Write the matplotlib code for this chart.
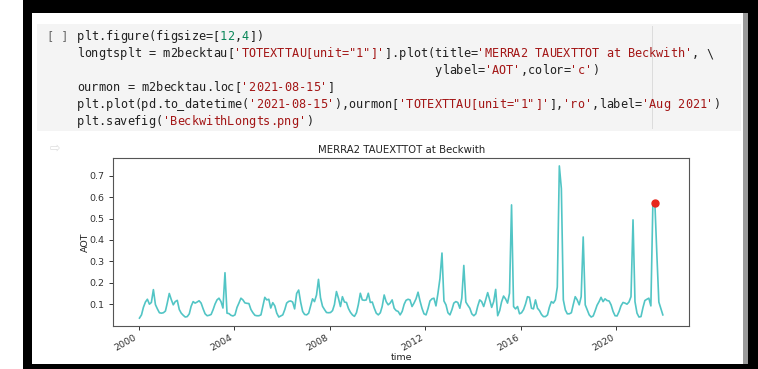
import matplotlib
matplotlib.use('Agg')
import matplotlib.pyplot as plt
import matplotlib.dates as mdates
from matplotlib.patches import Rectangle
import pandas as pd

W, H = 758, 369

# monthly MERRA2 TOTEXTTAU at Beckwith, Jan 2000 .. Dec 2021
aot = [
    0.035, 0.050, 0.085, 0.110, 0.123, 0.100, 0.108, 0.168, 0.098, 0.078, 0.060, 0.058,  # 2000
    0.060, 0.068, 0.105, 0.150, 0.122, 0.097, 0.112, 0.118, 0.075, 0.058, 0.048, 0.040,  # 2001
    0.042, 0.055, 0.090, 0.112, 0.105, 0.110, 0.116, 0.105, 0.078, 0.055, 0.046, 0.048,  # 2002
    0.052, 0.075, 0.100, 0.120, 0.128, 0.112, 0.082, 0.247, 0.058, 0.056, 0.048, 0.045,  # 2003
    0.050, 0.085, 0.105, 0.128, 0.120, 0.106, 0.104, 0.103, 0.075, 0.060, 0.048, 0.046,  # 2004
    0.046, 0.050, 0.090, 0.132, 0.120, 0.123, 0.082, 0.107, 0.092, 0.058, 0.040, 0.045,  # 2005
    0.050, 0.075, 0.105, 0.113, 0.115, 0.110, 0.078, 0.150, 0.166, 0.110, 0.066, 0.052,  # 2006
    0.050, 0.058, 0.089, 0.125, 0.112, 0.143, 0.216, 0.130, 0.090, 0.075, 0.061, 0.060,  # 2007
    0.061, 0.070, 0.098, 0.159, 0.128, 0.089, 0.135, 0.110, 0.108, 0.080, 0.062, 0.050,  # 2008
    0.043, 0.060, 0.097, 0.151, 0.120, 0.118, 0.120, 0.151, 0.108, 0.110, 0.081, 0.058,  # 2009
    0.050, 0.060, 0.089, 0.143, 0.112, 0.097, 0.105, 0.120, 0.081, 0.070, 0.066, 0.050,  # 2010
    0.066, 0.100, 0.118, 0.123, 0.120, 0.089, 0.105, 0.125, 0.156, 0.115, 0.080, 0.055,  # 2011
    0.050, 0.080, 0.115, 0.125, 0.128, 0.092, 0.150, 0.220, 0.339, 0.115, 0.097, 0.060,  # 2012
    0.050, 0.075, 0.105, 0.112, 0.108, 0.081, 0.128, 0.281, 0.110, 0.095, 0.081, 0.055,  # 2013
    0.046, 0.055, 0.090, 0.120, 0.112, 0.089, 0.120, 0.154, 0.120, 0.085, 0.112, 0.169,  # 2014
    0.046, 0.070, 0.110, 0.138, 0.125, 0.105, 0.151, 0.564, 0.089, 0.078, 0.089, 0.055,  # 2015
    0.060, 0.075, 0.100, 0.135, 0.132, 0.081, 0.078, 0.120, 0.081, 0.070, 0.052, 0.042,  # 2016
    0.042, 0.050, 0.085, 0.112, 0.105, 0.120, 0.180, 0.746, 0.640, 0.120, 0.073, 0.055,  # 2017
    0.055, 0.060, 0.097, 0.135, 0.120, 0.097, 0.135, 0.414, 0.097, 0.074, 0.050, 0.040,  # 2018
    0.045, 0.070, 0.095, 0.112, 0.132, 0.112, 0.125, 0.117, 0.115, 0.097, 0.066, 0.046,  # 2019
    0.045, 0.066, 0.092, 0.108, 0.105, 0.100, 0.110, 0.135, 0.494, 0.112, 0.058, 0.040,  # 2020
    0.042, 0.085, 0.117, 0.123, 0.128, 0.092, 0.560, 0.575, 0.330, 0.110, 0.080, 0.050,  # 2021
]
first_month = '2000-01'
highlight_date = '2021-08-15'

dates = pd.date_range(first_month, periods=len(aot), freq='MS') + pd.Timedelta(days=14)
m2becktau = pd.Series(aot, index=dates)

# notebook cell text: (segment, colour) pairs per line
DEF, STR, NUM = '#202020', '#a31515', '#098658'
code_lines = [
    [("plt.figure(figsize=[", DEF), ("12", NUM), (",", DEF), ("4", NUM), ("])", DEF)],
    [("longtsplt = m2becktau[", DEF), ("'TOTEXTTAU[unit=\"1\"]'", STR), ("].plot(title=", DEF),
     ("'MERRA2 TAUEXTTOT at Beckwith'", STR), (", \\", DEF)],
    [(" " * 50 + "ylabel=", DEF), ("'AOT'", STR), (",color=", DEF), ("'c'", STR), (")", DEF)],
    [("ourmon = m2becktau.loc[", DEF), ("'2021-08-15'", STR), ("]", DEF)],
    [("plt.plot(pd.to_datetime(", DEF), ("'2021-08-15'", STR), ("),ourmon[", DEF),
     ("'TOTEXTTAU[unit=\"1\"]'", STR), ("],", DEF), ("'ro'", STR), (",label=", DEF),
     ("'Aug 2021'", STR), (")", DEF)],
    [("plt.savefig(", DEF), ("'BeckwithLongts.png'", STR), (")", DEF)],
]


def box(fig, x0, y0, x1, y1, color, z=0):
    # pixel box (top-left origin) -> figure fraction rectangle
    fig.add_artist(Rectangle((x0 / W, 1 - y1 / H), (x1 - x0) / W, (y1 - y0) / H,
                             transform=fig.transFigure, facecolor=color,
                             edgecolor='none', zorder=z))


fig = plt.figure(figsize=(W / 100, H / 100), dpi=100, facecolor='white')
renderer = fig.canvas.get_renderer()

# screenshot frame and code cell
box(fig, 23, 0, W, 13, 'black')
box(fig, 23, 0, 32, H, 'black')
box(fig, 743, 13, 748, 364, '#9a9a9a')
box(fig, 748, 0, W, H, 'black')
box(fig, 23, 364, W, H, 'black')
box(fig, 37, 24, 741, 131, '#f4f4f4')
box(fig, 652, 26, 653, 129, '#dcdcdc', z=1)

# size the monospace font so one character advances ~7.15 px
cw = 7.15
probe = fig.text(0, 0, 'x' * 40, family='DejaVu Sans Mono', fontsize=10)
per_char = probe.get_window_extent(renderer).width / 40
probe.remove()
fs = 10 * cw / per_char

x0 = 77
line_y = [36, 53, 70, 87, 104, 121]   # visual centre of each code line
base = 4.3                            # centre -> baseline offset, px
fig.text(47 / W, 1 - (line_y[0] + base) / H, "[ ]", family='DejaVu Sans Mono',
         fontsize=fs, color='#6a6a6a', va='baseline', zorder=2)
for y, segs in zip(line_y, code_lines):
    col = 0
    for s, c in segs:
        for ch in s:
            if ch != ' ':
                fig.text((x0 + (col + 0.5) * cw) / W, 1 - (y + base) / H, ch,
                         family='DejaVu Sans Mono', fontsize=fs, color=c,
                         ha='center', va='baseline', zorder=2)
            col += 1

fig.text(55 / W, 1 - 148 / H, "\u21e8", fontsize=9, color='#dddddd', ha='center', va='center')

# the chart itself
ax = fig.add_axes([113.3 / W, 1 - 325.7 / H, 575.7 / W, 167.4 / H])
ax.plot(m2becktau.index, m2becktau.values, color='#52c5c5', linewidth=1.2)
ourmon = m2becktau.loc[highlight_date]
ax.plot(pd.to_datetime(highlight_date), ourmon, 'o', color='#e8271d', markersize=5,
        label='Aug 2021')

ax.set_title('MERRA2 TAUEXTTOT at Beckwith', fontsize=7.3, color='#222222', pad=4)
ax.set_ylabel('AOT', fontsize=6.8, color='#222222', ha='center', va='center')
ax.set_xlabel('time', fontsize=6.8, color='#222222', ha='center', va='center')
ax.yaxis.set_label_coords(-0.049, 0.5)
ax.xaxis.set_label_coords(0.5, -0.187)
ax.xaxis.set_major_locator(mdates.YearLocator(4))
ax.xaxis.set_major_formatter(mdates.DateFormatter('%Y'))
ax.set_yticks([0.1, 0.2, 0.3, 0.4, 0.5, 0.6, 0.7])
ax.tick_params(labelsize=6.8, colors='#333333', length=3, width=0.7)
ax.tick_params(axis='x', pad=2)
for lab in ax.get_xticklabels():
    lab.set_rotation(30)
    lab.set_ha('right')
for sp in ax.spines.values():
    sp.set_color('#555555')
    sp.set_linewidth(0.8)

fig.savefig('out.png', dpi=100)
